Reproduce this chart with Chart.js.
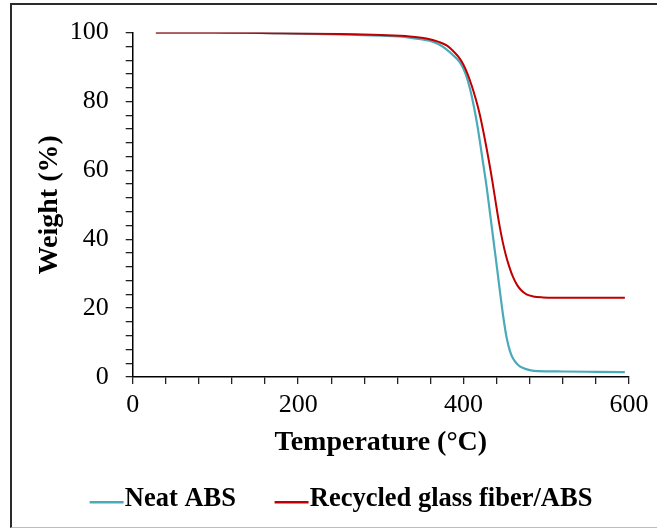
<!DOCTYPE html>
<html lang="en">
<head>
<meta charset="UTF-8">
<title>TGA curves - Neat ABS and Recycled glass fiber/ABS</title>
<script src="https://cdn.jsdelivr.net/npm/chart.js"></script>
<style>
  html, body { margin: 0; padding: 0; background: #fff; }
  .wrap { position: relative; width: 657px; height: 529px; overflow: hidden; }
  /* outer frame: dark left/top edge, light bottom edge */
  .frame {
    position: absolute; left: 10px; top: 3px; width: 700px; height: 522px;
    border-left: 2px solid #2b2b2b; border-top: 2px solid #2b2b2b;
    border-bottom: 1px solid #bdbdbd;
  }
  canvas { position: absolute; left: 0; top: 0; }
</style>
</head>
<body>
<div class="wrap">
  <div class="frame"></div>
  <canvas id="tgaChart" width="657" height="529"></canvas>
</div>
<script>
// Temperature (°C) / weight (%) readings for each sample
const tempNeat = [28, 100, 150, 200, 250, 300, 330, 350, 360, 370, 380, 388, 396, 402, 408, 416, 424, 428, 432, 436, 440, 444, 448, 452, 456, 460, 466, 472, 480, 490, 520, 560, 595];
const weightNeat = [100, 99.95, 99.9, 99.7, 99.5, 99.1, 98.7, 98.0, 97.6, 96.6, 95.0, 93.3, 91.2, 88.3, 83.5, 74.0, 61.5, 55.0, 47.5, 40.0, 32.5, 24.8, 17.5, 11.5, 7.6, 5.3, 3.5, 2.6, 2.0, 1.7, 1.6, 1.5, 1.4];

const tempGlass = [28, 100, 180, 250, 300, 335, 355, 370, 380, 390, 395, 400, 405, 410, 415, 420, 428, 435, 439, 443, 447, 451, 455, 460, 465, 470, 476, 484, 496, 510, 595];
const weightGlass = [100, 100, 99.8, 99.6, 99.3, 98.9, 98.3, 97.3, 96.2, 94.0, 92.6, 90.6, 87.9, 84.5, 80.5, 75.8, 66.2, 56.6, 50.5, 44.6, 39.6, 35.5, 32.2, 28.9, 26.6, 25.1, 24.0, 23.4, 23.1, 23.0, 23.0];

const seriesNames = ['Neat ABS', 'Recycled glass fiber/ABS'];
const seriesColors = ['#4aaab9', '#c00000'];

const xLabelEvery = 200;  // labelled x ticks (minor every 40)
const yLabelEvery = 20;   // labelled y ticks (minor every 4)

const serif = "'Liberation Serif', 'Times New Roman', serif";

function toPoints(xs, ys) {
  return xs.map((x, i) => ({ x: x, y: ys[i] }));
}

// short legend stroke, drawn as an image so it sits right up against the text
function legendLine(color) {
  const c = document.createElement('canvas');
  c.width = 68;
  c.height = 10;
  const g = c.getContext('2d');
  g.fillStyle = color;
  g.fillRect(23, 7, 34, 2.5);
  return c;
}

const ctx = document.getElementById('tgaChart').getContext('2d');
new Chart(ctx, {
  type: 'line',
  data: {
    datasets: [{
      label: seriesNames[0],
      data: toPoints(tempNeat, weightNeat),
      borderColor: seriesColors[0],
      borderWidth: 2.2,
      pointRadius: 0,
      pointStyle: legendLine(seriesColors[0]),
      cubicInterpolationMode: 'monotone',
      order: 1
    }, {
      label: seriesNames[1],
      data: toPoints(tempGlass, weightGlass),
      borderColor: seriesColors[1],
      borderWidth: 2,
      pointRadius: 0,
      pointStyle: legendLine(seriesColors[1]),
      cubicInterpolationMode: 'monotone',
      order: 0
    }]
  },
  options: {
    responsive: false,
    animation: false,
    layout: { padding: { left: 25, right: 0, top: 28, bottom: 6.75 } },
    plugins: {
      tooltip: { enabled: false },
      legend: {
        position: 'bottom',
        labels: {
          usePointStyle: true,
          pointStyleWidth: 22,
          padding: 12,
          color: '#000',
          font: { family: serif, size: 26.5, weight: 'bold' },
          generateLabels(chart) {
            const items = Chart.defaults.plugins.legend.labels.generateLabels(chart);
            items.sort((a, b) => a.datasetIndex - b.datasetIndex);
            // extra room after the first entry
            items[0].text += '    ';
            return items;
          }
        }
      }
    },
    scales: {
      x: {
        type: 'linear',
        min: 0,
        max: 600,
        afterFit(scale) {
          scale.height = 96.75;
          scale.paddingRight = 28;
        },
        ticks: {
          stepSize: 40,
          autoSkip: false,
          maxRotation: 0,
          padding: 6,
          color: '#000',
          font: { family: serif, size: 26 },
          callback: v => (v % xLabelEvery === 0 ? v : '')
        },
        grid: { drawOnChartArea: false, drawTicks: true, tickLength: 7, color: '#222', lineWidth: 1.3 },
        border: { display: true, color: '#000', width: 1.5 },
        title: {
          display: true,
          text: 'Temperature (°C)',
          color: '#000',
          padding: { top: 0, bottom: 14 },
          font: { family: serif, size: 28, weight: 'bold' }
        }
      },
      y: {
        min: 0,
        max: 100,
        afterFit(scale) {
          scale.width = 107.7;
        },
        ticks: {
          stepSize: 4,
          autoSkip: false,
          padding: 17,
          color: '#000',
          font: { family: serif, size: 26 },
          callback: v => (v % yLabelEvery === 0 ? v : '')
        },
        grid: { drawOnChartArea: false, drawTicks: true, tickLength: 7, color: '#222', lineWidth: 1.3 },
        border: { display: true, color: '#000', width: 1.5 },
        title: {
          display: true,
          text: 'Weight (%)',
          color: '#000',
          padding: { top: 8, bottom: 0 },
          font: { family: serif, size: 28, weight: 'bold' }
        }
      }
    }
  }
});
</script>
</body>
</html>
